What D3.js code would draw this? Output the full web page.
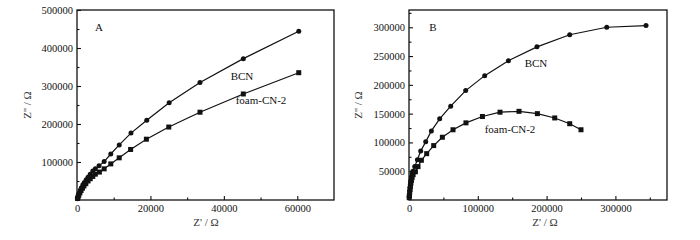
<!DOCTYPE html>
<html>
<head>
<meta charset="utf-8">
<script src="https://cdn.jsdelivr.net/npm/d3@7"></script>
<style>
  body { margin: 0; background: #fff; }
  svg text { font-family: "Liberation Serif", "DejaVu Serif", serif; fill: #111; }
</style>
</head>
<body>
<div id="chart"></div>
<script>
// Nyquist plots: panel A (zoomed) and panel B (full range)

// Panel A data: [Z', Z''] pairs
const aBCN = [
  [100, 3000], [200, 6000], [400, 12000], [600, 18000], [900, 25000], [1200, 32000],
  [1600, 40000], [2000, 46000], [2500, 53000], [3000, 60000], [3600, 68000],
  [4300, 76000], [5000, 82000], [6000, 90000], [7400, 101000], [9200, 121000],
  [11500, 145000], [14700, 176000], [19000, 210000], [25100, 256000],
  [33500, 309000], [45300, 372000], [60400, 444000]
];
const aFoam = [
  [150, 4000], [300, 8000], [500, 13000], [800, 19000], [1100, 25000], [1500, 31000],
  [1900, 37000], [2400, 43000], [3000, 50000], [3600, 56000], [4300, 62000],
  [5000, 68000], [6100, 73500], [7400, 82000], [9200, 95000], [11500, 111000],
  [14600, 133000], [18900, 160000], [25000, 192000], [33500, 231000],
  [45300, 279000], [60400, 335000]
];

// Panel B data
const bBCN = [
  [300, 5000], [600, 10000], [1000, 16000], [1500, 22000], [2000, 28000],
  [2700, 34000], [3500, 40000], [4500, 45000], [5500, 50000], [8300, 58000],
  [12200, 70000], [17000, 85000], [24300, 101000], [32500, 120000], [44600, 141000],
  [60600, 163000], [82400, 190000], [110000, 216000], [144500, 242000],
  [186000, 266000], [233600, 287000], [287400, 300000], [344500, 303000]
];
const bFoam = [
  [300, 4000], [600, 8000], [1000, 13000], [1500, 18000], [2000, 23000],
  [2700, 29000], [3500, 34000], [4500, 39000], [6000, 44000], [9300, 49000],
  [13100, 58000], [18000, 69000], [25700, 80500], [35900, 94500], [48500, 109000],
  [64000, 122000], [82800, 134000], [106700, 145000], [132300, 152500],
  [159900, 154000], [186600, 150000], [211800, 142500], [233600, 132500],
  [250000, 122000]
];

const W = 700, H = 240;
const svg = d3.select("#chart").append("svg")
  .attr("width", W).attr("height", H);

const panels = [
  {
    left: 77, right: 334, top: 10, bottom: 200,
    xMax: 70000, yMax: 500000,
    xMajor: d3.range(0, 70001, 20000), xMinor: d3.range(10000, 70000, 20000),
    yMajor: d3.range(100000, 500001, 100000), yMinor: d3.range(50000, 500000, 100000),
    series: [{ data: aBCN, mark: "circle" }, { data: aFoam, mark: "square" }],
    tag: { text: "A", x: 99, y: 31 },
    labels: [
      { text: "BCN", x: 242, y: 80 },
      { text: "foam-CN-2", x: 261, y: 104 }
    ],
    xTitle: { x: 206, y: 226 }, yTitle: { x: 31, y: 105 }
  },
  {
    left: 409, right: 667, top: 10, bottom: 200,
    xMax: 375000, yMax: 330000,
    xMajor: d3.range(0, 300001, 100000), xMinor: d3.range(50000, 375000, 100000),
    yMajor: d3.range(50000, 300001, 50000), yMinor: d3.range(25000, 330000, 50000),
    series: [{ data: bBCN, mark: "circle" }, { data: bFoam, mark: "square" }],
    tag: { text: "B", x: 433, y: 31 },
    labels: [
      { text: "BCN", x: 536, y: 67 },
      { text: "foam-CN-2", x: 510, y: 133 }
    ],
    xTitle: { x: 545, y: 226 }, yTitle: { x: 362, y: 105 }
  }
];

panels.forEach(p => {
  const x = d3.scaleLinear().domain([0, p.xMax]).range([p.left, p.right]);
  const y = d3.scaleLinear().domain([0, p.yMax]).range([p.bottom, p.top]);
  const g = svg.append("g");

  // x axis: inward ticks, labels below
  const xAxis = g.append("g").attr("transform", `translate(0,${p.bottom})`);
  xAxis.call(d3.axisBottom(x).tickValues(p.xMajor).tickSize(-4).tickPadding(5)
    .tickFormat(d3.format("d")));
  xAxis.append("g").call(d3.axisBottom(x).tickValues(p.xMinor).tickSize(-2.5).tickFormat(""));

  // y axis
  const yAxis = g.append("g").attr("transform", `translate(${p.left},0)`);
  yAxis.call(d3.axisLeft(y).tickValues(p.yMajor).tickSize(-4).tickPadding(4)
    .tickFormat(d3.format("d")));
  yAxis.append("g").call(d3.axisLeft(y).tickValues(p.yMinor).tickSize(-2.5).tickFormat(""));

  g.selectAll(".domain").remove();
  g.selectAll(".tick line").attr("stroke", "#111").attr("stroke-width", 1.1);
  g.selectAll(".tick text").style("font-size", "10.5px");

  // frame
  g.append("rect")
    .attr("x", p.left).attr("y", p.top)
    .attr("width", p.right - p.left).attr("height", p.bottom - p.top)
    .attr("fill", "none").attr("stroke", "#111").attr("stroke-width", 1.3);

  const line = d3.line().x(d => x(d[0])).y(d => y(d[1]));

  p.series.forEach(s => {
    g.append("path").datum(s.data)
      .attr("d", line)
      .attr("fill", "none").attr("stroke", "#111").attr("stroke-width", 1.2);

    if (s.mark === "circle") {
      g.selectAll(null).data(s.data).enter().append("circle")
        .attr("cx", d => x(d[0])).attr("cy", d => y(d[1]))
        .attr("r", 2.5).attr("fill", "#111");
    } else {
      g.selectAll(null).data(s.data).enter().append("rect")
        .attr("x", d => x(d[0]) - 2.5).attr("y", d => y(d[1]) - 2.5)
        .attr("width", 5).attr("height", 5).attr("fill", "#111");
    }
  });

  g.append("text").attr("x", p.tag.x).attr("y", p.tag.y)
    .attr("text-anchor", "middle").style("font-size", "11px").text(p.tag.text);

  p.labels.forEach(l => {
    g.append("text").attr("x", l.x).attr("y", l.y)
      .attr("text-anchor", "middle").style("font-size", "11px").text(l.text);
  });

  g.append("text").attr("x", p.xTitle.x).attr("y", p.xTitle.y)
    .attr("text-anchor", "middle").style("font-size", "11px").style("fill", "#333")
    .text("Z' / Ω");

  g.append("text")
    .attr("transform", `translate(${p.yTitle.x},${p.yTitle.y}) rotate(-90)`)
    .attr("text-anchor", "middle").style("font-size", "11px").style("fill", "#333")
    .text("Z'' / Ω");
});
</script>
</body>
</html>
